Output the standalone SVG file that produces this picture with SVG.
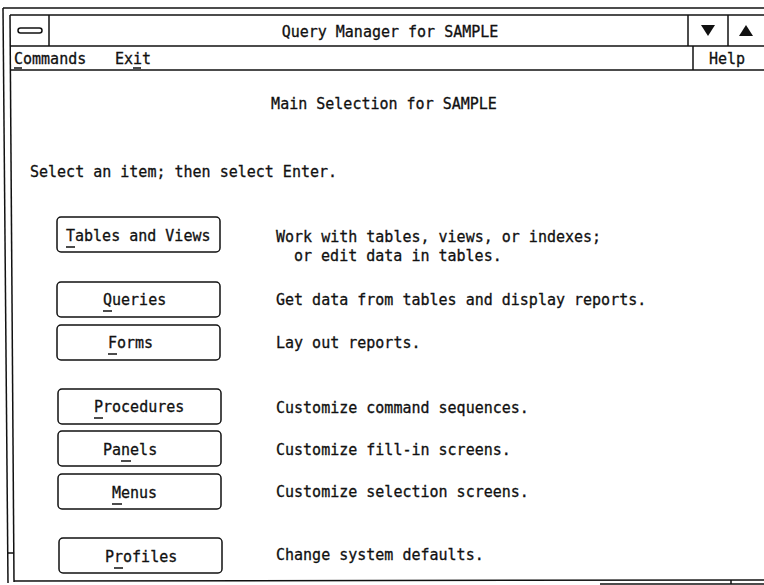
<svg xmlns="http://www.w3.org/2000/svg" width="764" height="585" viewBox="0 0 764 585">
<style>
text{font-family:"DejaVu Sans Mono","Liberation Mono",monospace;font-size:15px;fill:#111;stroke:#111;stroke-width:0.3}
.ln{stroke:#111;stroke-width:1.5;fill:none}
.btn{fill:#fff;stroke:#111;stroke-width:1.5}
.ul{stroke:#111;stroke-width:1.5}
.c{text-anchor:middle}
</style>
<rect width="764" height="585" fill="#fff"/>
<g id="frame">
<line class="ln" x1="3" y1="8" x2="764" y2="8"/>
<line class="ln" x1="10" y1="15" x2="764" y2="15"/>
<line class="ln" x1="3" y1="8" x2="8" y2="583"/>
<line class="ln" x1="10" y1="15" x2="14" y2="582"/>
<line class="ln" x1="8" y1="553" x2="14" y2="553"/>
<line class="ln" x1="14" y1="581" x2="764" y2="580"/>
<line class="ln" x1="600" y1="584" x2="764" y2="584"/>
<line class="ln" x1="731" y1="580" x2="731" y2="584"/>
</g>
<g id="titlebar">
<line class="ln" x1="10" y1="46" x2="764" y2="46"/>
<line class="ln" x1="49" y1="15" x2="49" y2="46"/>
<rect x="18" y="28" width="24" height="5" rx="2.5" class="btn"/>
<text x="390" y="37" class="c">Query Manager for SAMPLE</text>
<line class="ln" x1="688" y1="15" x2="688" y2="46"/>
<line class="ln" x1="728" y1="15" x2="728" y2="46"/>
<polygon points="701,25 715,25 708,36" fill="#111"/>
<polygon points="739,36 753,36 746,25" fill="#111"/>
</g>
<g id="menubar">
<line class="ln" x1="11" y1="70" x2="764" y2="70"/>
<line class="ln" x1="693" y1="46" x2="693" y2="70"/>
<text x="14" y="64">Commands</text>
<line class="ul" x1="14" y1="68" x2="22" y2="68"/>
<text x="115" y="64">Exit</text>
<line class="ul" x1="133" y1="68" x2="141" y2="68"/>
<text x="709" y="64">Help</text>
</g>
<g id="heading">
<text x="384" y="109" class="c">Main Selection for SAMPLE</text>
<text x="30" y="177">Select an item; then select Enter.</text>
</g>
<g id="tables">
<rect class="btn" x="57" y="217" width="163" height="35" rx="4"/>
<text x="66" y="241">Tables and Views</text>
<line class="ul" x1="66" y1="247" x2="75" y2="247"/>
<text x="276" y="242">Work with tables, views, or indexes;</text>
<text x="294" y="261">or edit data in tables.</text>
</g>
<g id="queries">
<rect class="btn" x="57" y="282" width="163" height="35" rx="4"/>
<text x="103" y="305">Queries</text>
<line class="ul" x1="103" y1="311" x2="112" y2="311"/>
<text x="276" y="305">Get data from tables and display reports.</text>
</g>
<g id="forms">
<rect class="btn" x="57" y="325" width="163" height="35" rx="4"/>
<text x="108" y="348">Forms</text>
<line class="ul" x1="108" y1="354" x2="117" y2="354"/>
<text x="276" y="348">Lay out reports.</text>
</g>
<g id="procedures">
<rect class="btn" x="58" y="389" width="163" height="35" rx="4"/>
<text x="94" y="412">Procedures</text>
<line class="ul" x1="94" y1="418" x2="103" y2="418"/>
<text x="276" y="413">Customize command sequences.</text>
</g>
<g id="panels">
<rect class="btn" x="58" y="431" width="163" height="35" rx="4"/>
<text x="103" y="455">Panels</text>
<line class="ul" x1="121" y1="461" x2="131" y2="461"/>
<text x="276" y="455">Customize fill-in screens.</text>
</g>
<g id="menus">
<rect class="btn" x="58" y="474" width="163" height="35" rx="4"/>
<text x="112" y="498">Menus</text>
<line class="ul" x1="112" y1="504" x2="122" y2="504"/>
<text x="276" y="497">Customize selection screens.</text>
</g>
<g id="profiles">
<rect class="btn" x="59" y="538" width="163" height="35" rx="4"/>
<text x="105" y="562">Profiles</text>
<line class="ul" x1="114" y1="568" x2="123" y2="568"/>
<text x="276" y="560">Change system defaults.</text>
</g>
</svg>
